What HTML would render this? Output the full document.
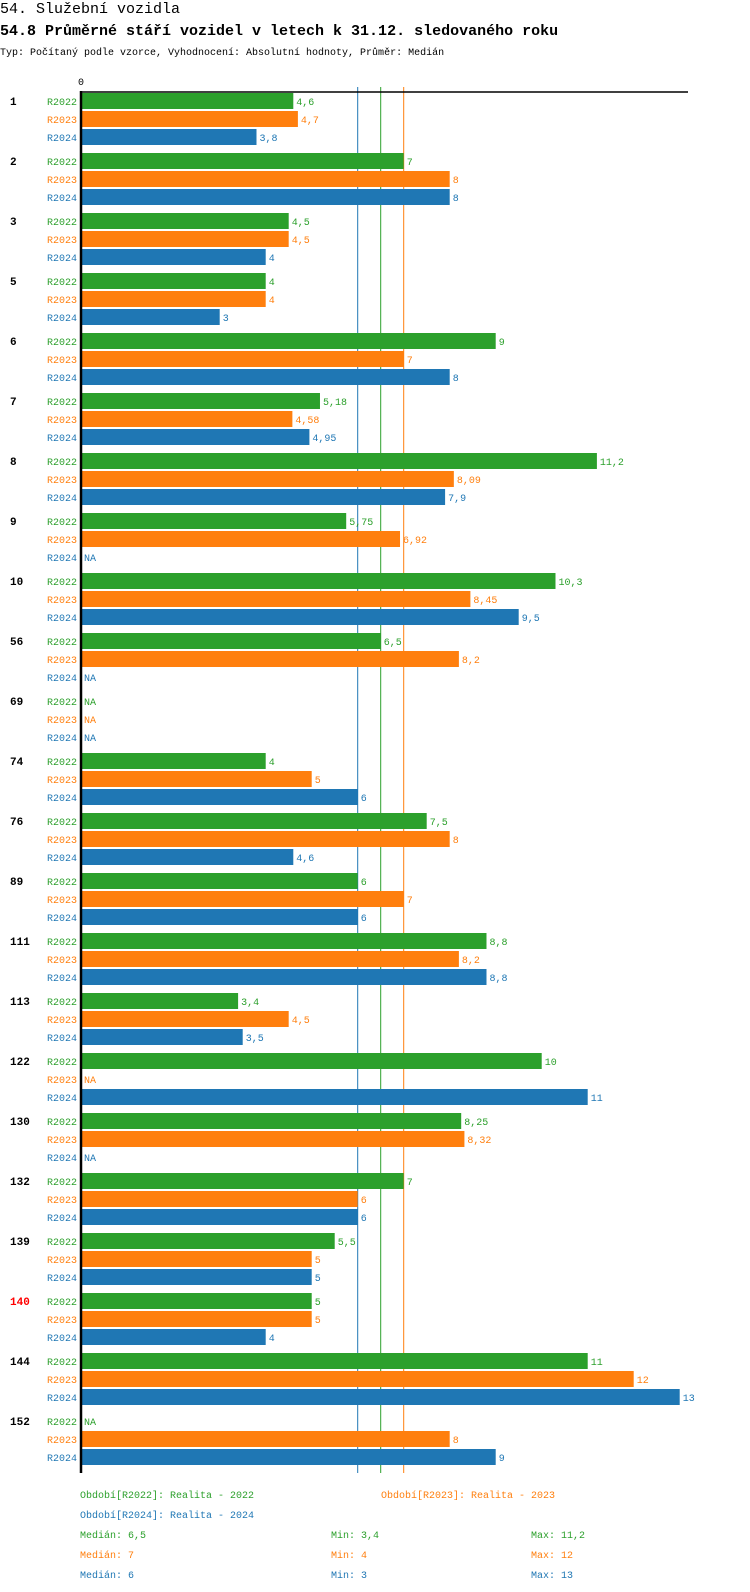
<!DOCTYPE html>
<html><head><meta charset="utf-8">
<style>
body{margin:0;background:#fff;font-family:"Liberation Mono",monospace;}
svg{display:block}
</style></head>
<body>
<svg id="chart" width="750" height="1592" xmlns="http://www.w3.org/2000/svg" font-family="Liberation Mono, monospace">
<text x="0" y="13" font-size="15" fill="#000">54. Služební vozidla</text>
<text x="0" y="35" font-size="15" font-weight="bold" fill="#000">54.8 Průměrné stáří vozidel v letech k 31.12. sledovaného roku</text>
<text x="0" y="55" font-size="10" fill="#000">Typ: Počítaný podle vzorce, Vyhodnocení: Absolutní hodnoty, Průměr: Medián</text>
<text x="78" y="85" font-size="10" fill="#000">0</text>
<g id="marks"></g>
</svg>
<script>
const groups=["1","2","3","5","6","7","8","9","10","56","69","74","76","89","111","113","122","130","132","139","140","144","152"];
const seriesNames=["R2022","R2023","R2024"];
const r2022=[4.6,7,4.5,4,9,5.18,11.2,5.75,10.3,6.5,null,4,7.5,6,8.8,3.4,10,8.25,7,5.5,5,11,null];
const r2023=[4.7,8,4.5,4,7,4.58,8.09,6.92,8.45,8.2,null,5,8,7,8.2,4.5,null,8.32,6,5,5,12,8];
const r2024=[3.8,8,4,3,8,4.95,7.9,null,9.5,null,null,6,4.6,6,8.8,3.5,11,null,6,5,4,13,9];
const medians=[6.5,7,6];
const mins=[3.4,4,3];
const maxs=[11.2,12,13];
const highlighted=["140"];
const colors=["#2ca02c","#ff7f0e","#1f77b4"];
const NS="http://www.w3.org/2000/svg";
const X0=81.7,K=46,Y0=101,GS=60,RS=18;
const xs=v=>X0+v*K;
const ys=(g,r)=>Y0+g*GS+r*RS;
const fmt=v=>String(v).replace('.',',');
const g=document.getElementById('marks');
function mk(tag,attrs,txt){const e=document.createElementNS(NS,tag);for(const k in attrs)e.setAttribute(k,attrs[k]);if(txt!=null)e.textContent=txt;g.appendChild(e);return e;}
const series=[r2022,r2023,r2024];
const axisBottom=ys(groups.length-1,2)+16;
medians.forEach((m,i)=>{
  const l=mk('line',{x1:xs(m),x2:xs(m),y1:87,y2:axisBottom,stroke:colors[i],'stroke-width':1});
  
  
});
groups.forEach((name,gi)=>{
  const t=mk('text',{x:10,y:ys(gi,0)+4,'font-size':11,'font-weight':'bold',fill:highlighted.includes(name)?'#ff0000':'#000'},name);
  
  
  series.forEach((s,si)=>{
    const y=ys(gi,si);
    const lb=mk('text',{x:77,y:y+4,'font-size':10,'text-anchor':'end',fill:colors[si]},seriesNames[si]);
    
    
    const v=s[gi];
    if(v==null){
      const na=mk('text',{x:84,y:y+4,'font-size':10,fill:colors[si]},'NA');
      
      
    }else{
      const r=mk('rect',{x:X0,y:y-8,width:xs(v)-X0,height:16,fill:colors[si]});
      
      
      const vt=mk('text',{x:xs(v)+3,y:y+4,'font-size':10,fill:colors[si]},fmt(v));
      
      
    }
  });
});
const ax=mk('line',{x1:81,x2:81,y1:91,y2:axisBottom,stroke:'#000','stroke-width':2.5});


const tx=mk('line',{x1:80,x2:688,y1:92,y2:92,stroke:'#000','stroke-width':1.5});


const leg=[[80,1498,0,"Období[R2022]: Realita - 2022"],[381,1498,1,"Období[R2023]: Realita - 2023"],[80,1518,2,"Období[R2024]: Realita - 2024"]];
leg.forEach(([x,y,c,t])=>{const e=mk('text',{x:x,y:y,'font-size':10,fill:colors[c]},t);
  
  });
[0,1,2].forEach(i=>{
  const y=1538+i*20;
  const a=mk('text',{x:80,y:y,'font-size':10,fill:colors[i]},'Medián: '+fmt(medians[i]));
  
  
  const b=mk('text',{x:331,y:y,'font-size':10,fill:colors[i]},'Min: '+fmt(mins[i]));
  
  
  const c=mk('text',{x:531,y:y,'font-size':10,fill:colors[i]},'Max: '+fmt(maxs[i]));
  
  
});
</script>
</body></html>
